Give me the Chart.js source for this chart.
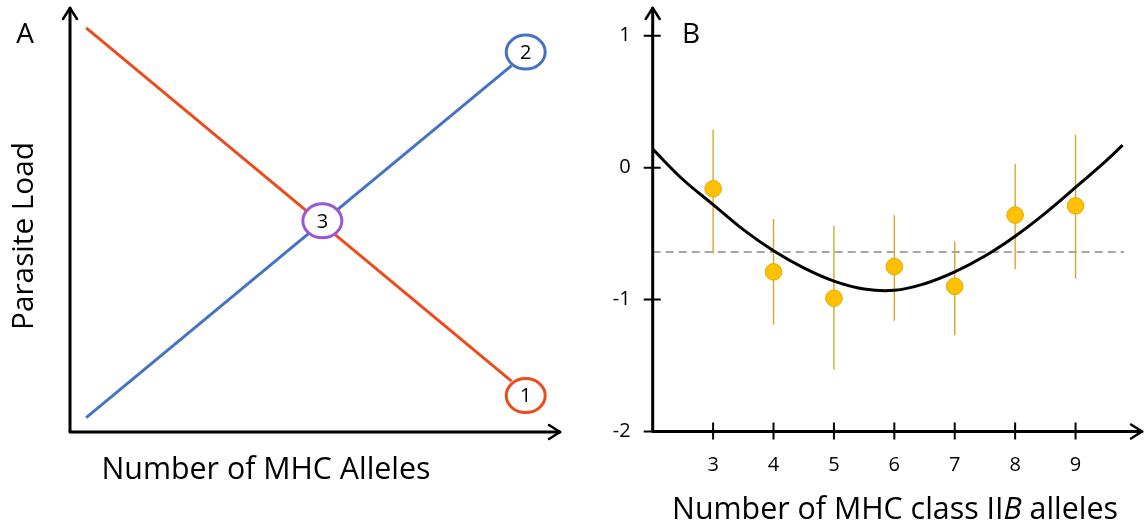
<!DOCTYPE html>
<html>
<head>
<meta charset="utf-8">
<script src="https://cdn.jsdelivr.net/npm/chart.js@4.4.1/dist/chart.umd.min.js"></script>
<style>
  html, body { margin: 0; padding: 0; background: #fff; }
  #wrap { position: relative; width: 1145px; height: 525px; overflow: hidden; }
  #cA { position: absolute; left: 0; top: 0; }
  #cB { position: absolute; left: 600px; top: 0; }
</style>
</head>
<body>
<div id="wrap">
  <canvas id="cA" width="600" height="525"></canvas>
  <canvas id="cB" width="545" height="525"></canvas>
</div>
<script>
// ---------- Panel A: conceptual model (arbitrary units 0..10) ----------
const redLineX = [0.33, 9.01];
const redLineY = [9.53, 1.20];
const blueLineX = [0.33, 9.01];
const blueLineY = [0.34, 8.64];
const markerLabels = ['1', '2', '3'];
const markerX = [9.30, 9.30, 5.15];
const markerY = [0.86, 8.96, 4.98];
const markerColors = ['#EE4B1B', '#4472C4', '#9B57D3'];

// ---------- Panel B: parasite load by number of MHC class IIB alleles ----------
const alleleCounts = [3, 4, 5, 6, 7, 8, 9];
const meanLoad = [-0.16, -0.79, -0.99, -0.75, -0.90, -0.36, -0.29];
const loadLow  = [-0.65, -1.19, -1.53, -1.16, -1.27, -0.77, -0.84];
const loadHigh = [0.29, -0.39, -0.44, -0.36, -0.56, 0.03, 0.25];
const fitX = [2, 2.5, 3, 3.5, 4, 4.5, 5, 5.5, 6, 6.5, 7, 7.5, 8, 8.5, 9, 9.5, 9.78];
const fitY = [0.14, -0.09, -0.28, -0.47, -0.63, -0.76, -0.86, -0.92, -0.93, -0.88, -0.79, -0.67, -0.52, -0.345, -0.15, 0.05, 0.17];
const meanLineX = [2, 9.8];
const meanLineY = [-0.64, -0.64];
const yTicksB = [-2, -1, 0, 1];
const xTicksB = [3, 4, 5, 6, 7, 8, 9];

const FAMILY = '"Open Sans", "Noto Sans", sans-serif';

function pts(xs, ys) { return xs.map((x, i) => ({ x: x, y: ys[i] })); }

// font size that makes a string span a given width
function fitSize(ctx, parts, width) {
  let w = 0;
  parts.forEach(p => { ctx.font = (p.italic ? 'italic ' : '') + '100px ' + FAMILY; w += ctx.measureText(p.text).width; });
  return 100 * width / w;
}
function drawParts(ctx, parts, cx, cy, width) {
  const size = fitSize(ctx, parts, width);
  let total = 0;
  const widths = parts.map(p => { ctx.font = (p.italic ? 'italic ' : '') + size + 'px ' + FAMILY; const w = ctx.measureText(p.text).width; total += w; return w; });
  let x = cx - total / 2;
  ctx.textAlign = 'left';
  ctx.textBaseline = 'middle';
  ctx.fillStyle = '#000';
  parts.forEach((p, i) => { ctx.font = (p.italic ? 'italic ' : '') + size + 'px ' + FAMILY; ctx.fillText(p.text, x, cy); x += widths[i]; });
}
function arrowAxes(ctx, left, bottom, top, right, half, back) {
  ctx.save();
  ctx.strokeStyle = '#000';
  ctx.lineWidth = 3;
  ctx.lineCap = 'round';
  ctx.lineJoin = 'round';
  ctx.beginPath();
  ctx.moveTo(left, bottom); ctx.lineTo(left, top);
  ctx.moveTo(left, bottom); ctx.lineTo(right, bottom);
  ctx.stroke();
  ctx.lineWidth = 2.5;
  ctx.beginPath();
  ctx.moveTo(left - half, top + back); ctx.lineTo(left, top); ctx.lineTo(left + half, top + back);
  ctx.moveTo(right - back, bottom - half); ctx.lineTo(right, bottom); ctx.lineTo(right - back, bottom + half);
  ctx.stroke();
  ctx.restore();
}

// ---------- Chart A ----------
const panelAPlugin = {
  id: 'panelA',
  afterDatasetsDraw(chart) {
    const ctx = chart.ctx, a = chart.chartArea;
    const xs = chart.scales.x, ys = chart.scales.y;
    arrowAxes(ctx, a.left, a.bottom, a.top, a.right, 7, 11);
    // circled markers
    ctx.save();
    markerLabels.forEach((lab, i) => {
      const px = xs.getPixelForValue(markerX[i]);
      const py = ys.getPixelForValue(markerY[i]);
      ctx.beginPath();
      ctx.ellipse(px, py, 19.5, 17, 0, 0, Math.PI * 2);
      ctx.fillStyle = '#fff';
      ctx.fill();
      ctx.lineWidth = 3;
      ctx.strokeStyle = markerColors[i];
      ctx.stroke();
      ctx.fillStyle = '#000';
      ctx.font = '20px ' + FAMILY;
      ctx.textAlign = 'center';
      ctx.textBaseline = 'middle';
      ctx.fillText(lab, px, py + 1);
    });
    ctx.restore();
    ctx.save();
    ctx.fillStyle = '#000';
    ctx.font = '28px ' + FAMILY;
    ctx.textAlign = 'center';
    ctx.textBaseline = 'middle';
    ctx.fillText('A', 25, 35);
    // y title
    ctx.translate(25, 236);
    ctx.rotate(-Math.PI / 2);
    drawParts(ctx, [{ text: 'Parasite Load' }], 0, 0, 188);
    ctx.restore();
    ctx.save();
    drawParts(ctx, [{ text: 'Number of MHC Alleles' }], 266, 470, 329);
    ctx.restore();
  }
};

new Chart(document.getElementById('cA'), {
  type: 'scatter',
  data: {
    datasets: [
      { data: pts(redLineX, redLineY), showLine: true, borderColor: '#EE4B1B', borderWidth: 3, pointRadius: 0, clip: false },
      { data: pts(blueLineX, blueLineY), showLine: true, borderColor: '#4472C4', borderWidth: 3, pointRadius: 0, clip: false }
    ]
  },
  options: {
    responsive: false,
    animation: false,
    events: [],
    layout: { padding: { left: 70, right: 40, top: 8, bottom: 93 } },
    plugins: { legend: { display: false }, tooltip: { enabled: false } },
    scales: {
      x: { type: 'linear', min: 0, max: 10, display: false },
      y: { type: 'linear', min: 0, max: 10, display: false }
    }
  },
  plugins: [panelAPlugin]
});

// ---------- Chart B ----------
function noScalePadding(s) { s.paddingTop = 0; s.paddingBottom = 0; s.paddingLeft = 0; s.paddingRight = 0; }

const panelBPlugin = {
  id: 'panelB',
  beforeDatasetDraw(chart, args) {
    if (args.index !== 1) return;
    // error bars sit under the mean markers
    const ctx = chart.ctx, xs = chart.scales.x, ys = chart.scales.y;
    ctx.save();
    ctx.strokeStyle = '#D9A62A';
    ctx.lineWidth = 1.4;
    ctx.beginPath();
    alleleCounts.forEach((c, i) => {
      const px = xs.getPixelForValue(c);
      ctx.moveTo(px, ys.getPixelForValue(loadLow[i]));
      ctx.lineTo(px, ys.getPixelForValue(loadHigh[i]));
    });
    ctx.stroke();
    ctx.restore();
  },
  afterDatasetsDraw(chart) {
    const ctx = chart.ctx, a = chart.chartArea;
    const xs = chart.scales.x, ys = chart.scales.y;
    arrowAxes(ctx, a.left, a.bottom, a.top, a.right, 7, 11);
    ctx.save();
    ctx.strokeStyle = '#000';
    ctx.lineWidth = 2;
    ctx.beginPath();
    yTicksB.forEach(v => {
      const py = ys.getPixelForValue(v);
      ctx.moveTo(a.left - 9, py); ctx.lineTo(a.left + 8, py);
    });
    xTicksB.forEach(v => {
      const px = xs.getPixelForValue(v);
      ctx.moveTo(px, a.bottom - 9); ctx.lineTo(px, a.bottom + 8);
    });
    ctx.stroke();
    ctx.fillStyle = '#000';
    ctx.font = '28px ' + FAMILY;
    ctx.textAlign = 'center';
    ctx.textBaseline = 'middle';
    ctx.fillText('B', 91, 35);
    ctx.restore();
    ctx.save();
    drawParts(ctx, [{ text: 'Number of MHC class II' }, { text: 'B', italic: true }, { text: ' alleles' }], 295, 510, 446);
    ctx.restore();
  }
};

new Chart(document.getElementById('cB'), {
  type: 'scatter',
  data: {
    datasets: [
      { data: pts(fitX, fitY), showLine: true, borderColor: '#000', borderWidth: 3, pointRadius: 0, tension: 0.4, clip: false },
      { data: pts(alleleCounts, meanLoad), showLine: false, pointRadius: 8.3, backgroundColor: '#FFC000', borderColor: '#E2AA00', borderWidth: 1, clip: false },
      { data: pts(meanLineX, meanLineY), showLine: true, borderColor: '#A6A6A6', borderWidth: 2, borderDash: [8, 5], pointRadius: 0, clip: false }
    ]
  },
  options: {
    responsive: false,
    animation: false,
    events: [],
    layout: { autoPadding: false, padding: { left: 0, right: 3, top: 8, bottom: 0 } },
    plugins: { legend: { display: false }, tooltip: { enabled: false } },
    scales: {
      x: {
        type: 'linear', min: 2, max: 10.1,
        grid: { display: false, drawTicks: false }, border: { display: false },
        afterBuildTicks: s => { s.ticks = xTicksB.map(v => ({ value: v })); },
        afterFit: s => { s.height = 93.5; noScalePadding(s); },
        ticks: { autoSkip: false, maxRotation: 0, padding: 22, color: '#000', font: { family: FAMILY, size: 20 }, callback: v => String(v) }
      },
      y: {
        type: 'linear', min: -2, max: 1.21,
        grid: { display: false, drawTicks: false }, border: { display: false },
        afterBuildTicks: s => { s.ticks = yTicksB.map(v => ({ value: v })); },
        afterFit: s => { s.width = 52.7; noScalePadding(s); },
        ticks: { autoSkip: false, padding: 22, color: '#000', font: { family: FAMILY, size: 20 }, callback: v => String(v) }
      }
    }
  },
  plugins: [panelBPlugin]
});
</script>
</body>
</html>
